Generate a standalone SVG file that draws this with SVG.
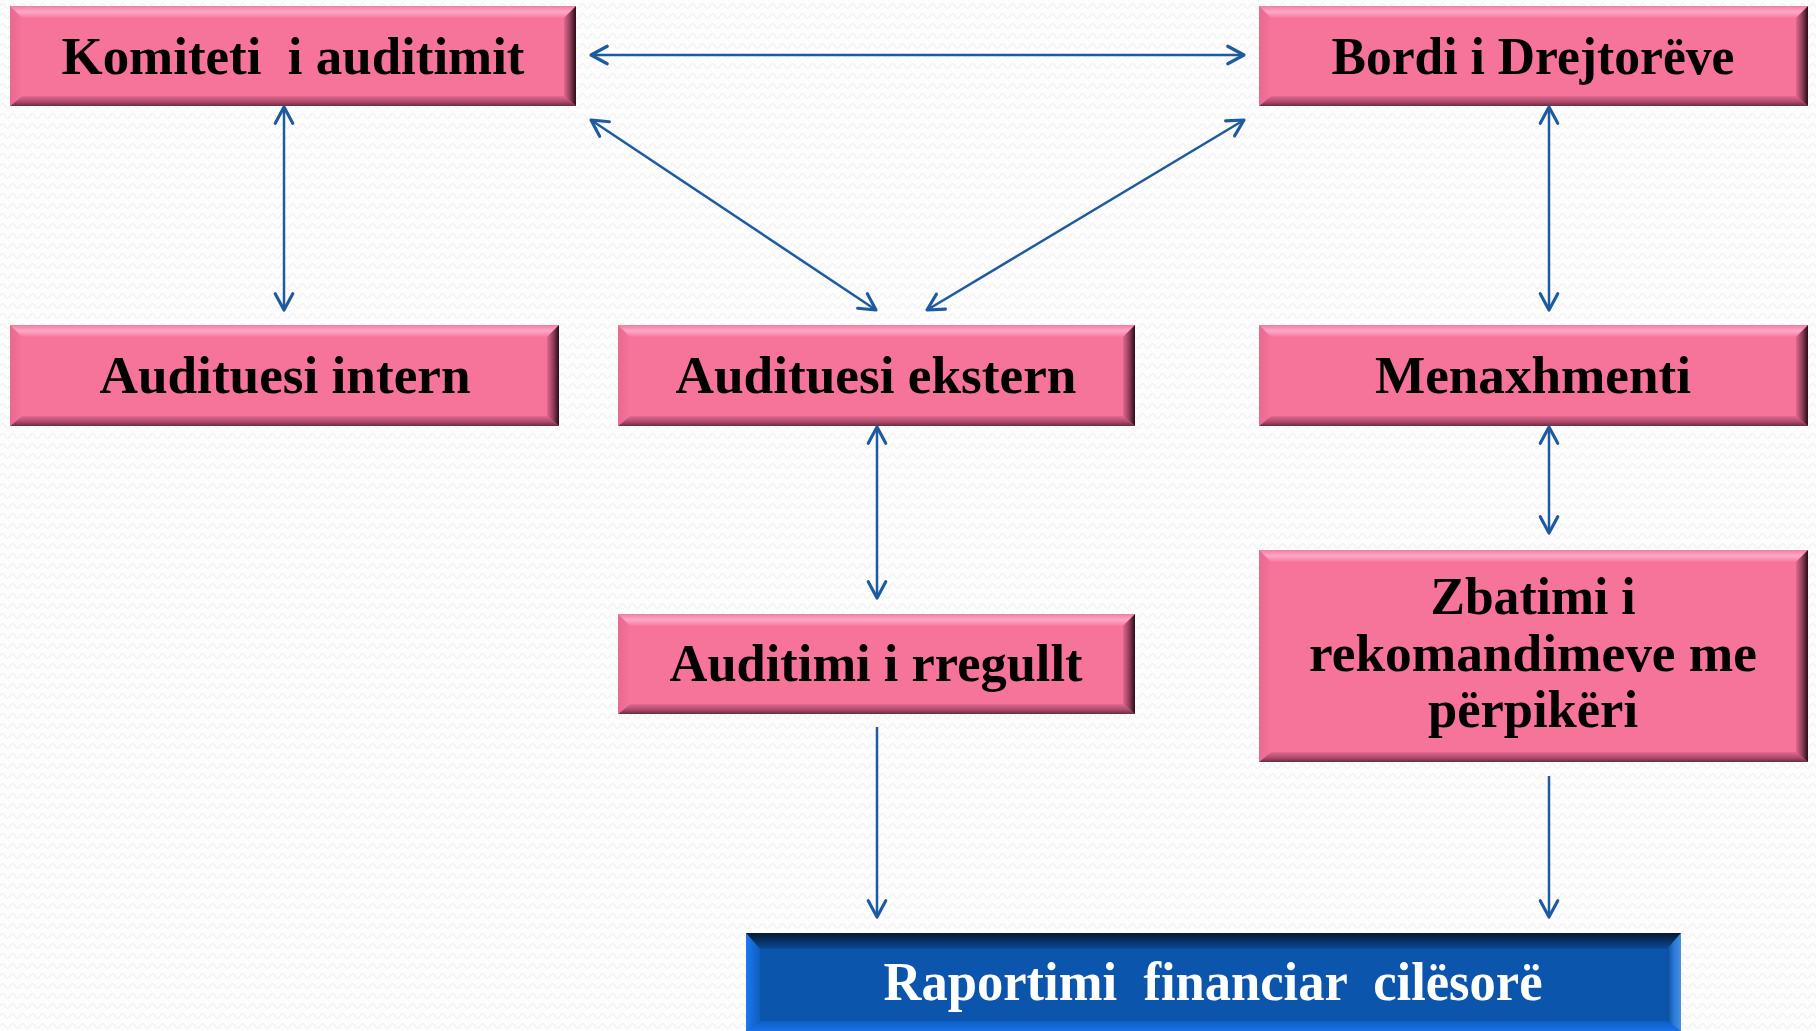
<svg xmlns="http://www.w3.org/2000/svg" width="1816" height="1031" viewBox="0 0 1816 1031">
<defs>
<pattern id="bg" width="10" height="10" patternUnits="userSpaceOnUse">
<rect width="10" height="10" fill="#fdfdfd"/>
<path d="M0 6 Q1.25 3.5 2.5 3.5 Q3.75 3.5 5 6 Q6.25 8.5 7.5 8.5 Q8.75 8.5 10 6" fill="none" stroke="#ececec" stroke-width="1"/>
</pattern>
<linearGradient id="pTop" x1="0" y1="0" x2="0" y2="1"><stop offset="0" stop-color="#f27da1"/><stop offset="0.5" stop-color="#fda8c8"/><stop offset="1" stop-color="#f6779d"/></linearGradient>
<linearGradient id="pBot" x1="0" y1="0" x2="0" y2="1"><stop offset="0" stop-color="#e6688f"/><stop offset="0.6" stop-color="#a84a6a"/><stop offset="1" stop-color="#6e2a42"/></linearGradient>
<linearGradient id="pRight" x1="0" y1="0" x2="1" y2="0"><stop offset="0" stop-color="#e26690"/><stop offset="0.5" stop-color="#94405c"/><stop offset="1" stop-color="#2a0c18"/></linearGradient>
<linearGradient id="pLeft" x1="0" y1="0" x2="1" y2="0"><stop offset="0" stop-color="#e9698f"/><stop offset="1" stop-color="#f6739a"/></linearGradient>
<linearGradient id="bTop" x1="0" y1="0" x2="0" y2="1"><stop offset="0" stop-color="#041a33"/><stop offset="1" stop-color="#0b4a95"/></linearGradient>
<linearGradient id="bBot" x1="0" y1="0" x2="0" y2="1"><stop offset="0" stop-color="#0d5fc4"/><stop offset="1" stop-color="#1a72ec"/></linearGradient>
<linearGradient id="bLeft" x1="0" y1="0" x2="1" y2="0"><stop offset="0" stop-color="#1e78f0"/><stop offset="1" stop-color="#0e5cc0"/></linearGradient>
<linearGradient id="bRight" x1="0" y1="0" x2="1" y2="0"><stop offset="0" stop-color="#0b4a98"/><stop offset="0.5" stop-color="#2a7ad8"/><stop offset="1" stop-color="#4890e0"/></linearGradient>
<marker id="arr" markerUnits="userSpaceOnUse" markerWidth="30" markerHeight="30" viewBox="-18 -12 24 24" refX="0" refY="0" orient="auto-start-reverse">
<path d="M-13,-7 L0,0 L-13,7" fill="none" stroke="#1d5aa0" stroke-width="2.5" stroke-linecap="round" stroke-linejoin="round"/>
</marker>
</defs>
<style>
.lbl{font-family:"Liberation Serif","Times New Roman",serif;font-weight:bold;font-size:52px;fill:#000;text-anchor:middle;white-space:pre}
.wlbl{font-family:"Liberation Serif","Times New Roman",serif;font-weight:bold;font-size:55px;fill:#fff;text-anchor:middle;white-space:pre}
.base{fill:#f6739a}
.bt{fill:url(#pTop)}.bb{fill:url(#pBot)}.br{fill:url(#pRight)}.bl{fill:url(#pLeft)}
.con{fill:none;stroke:#1d5aa0;stroke-width:2.5}
</style>
<rect width="1816" height="1031" fill="url(#bg)"/>

<g id="komiteti">
<rect class="base" x="10" y="6" width="566" height="100"/>
<polygon class="bt" points="10,6 576,6 564,18 22,18"/>
<polygon class="bb" points="10,106 576,106 564,96 22,96"/>
<polygon class="bl" points="10,6 22,18 22,96 10,106"/>
<polygon class="br" points="576,6 576,106 564,96 564,18"/>
<text class="lbl" x="293" y="74" textLength="463" lengthAdjust="spacingAndGlyphs">Komiteti  i auditimit</text>
</g>

<g id="bordi">
<rect class="base" x="1259" y="6" width="549" height="100"/>
<polygon class="bt" points="1259,6 1808,6 1796,18 1271,18"/>
<polygon class="bb" points="1259,106 1808,106 1796,96 1271,96"/>
<polygon class="bl" points="1259,6 1271,18 1271,96 1259,106"/>
<polygon class="br" points="1808,6 1808,106 1796,96 1796,18"/>
<text class="lbl" x="1533" y="74" textLength="403" lengthAdjust="spacingAndGlyphs">Bordi i Drejtorëve</text>
</g>

<g id="intern">
<rect class="base" x="10" y="325" width="549" height="101"/>
<polygon class="bt" points="10,325 559,325 547,337 22,337"/>
<polygon class="bb" points="10,426 559,426 547,416 22,416"/>
<polygon class="bl" points="10,325 22,337 22,416 10,426"/>
<polygon class="br" points="559,325 559,426 547,416 547,337"/>
<text class="lbl" x="285" y="393" textLength="371" lengthAdjust="spacingAndGlyphs">Audituesi intern</text>
</g>

<g id="ekstern">
<rect class="base" x="618" y="325" width="517" height="101"/>
<polygon class="bt" points="618,325 1135,325 1123,337 630,337"/>
<polygon class="bb" points="618,426 1135,426 1123,416 630,416"/>
<polygon class="bl" points="618,325 630,337 630,416 618,426"/>
<polygon class="br" points="1135,325 1135,426 1123,416 1123,337"/>
<text class="lbl" x="876" y="393" textLength="401" lengthAdjust="spacingAndGlyphs">Audituesi ekstern</text>
</g>

<g id="menaxhmenti">
<rect class="base" x="1259" y="325" width="549" height="101"/>
<polygon class="bt" points="1259,325 1808,325 1796,337 1271,337"/>
<polygon class="bb" points="1259,426 1808,426 1796,416 1271,416"/>
<polygon class="bl" points="1259,325 1271,337 1271,416 1259,426"/>
<polygon class="br" points="1808,325 1808,426 1796,416 1796,337"/>
<text class="lbl" x="1533" y="393" textLength="316" lengthAdjust="spacingAndGlyphs">Menaxhmenti</text>
</g>

<g id="rregullt">
<rect class="base" x="618" y="614" width="517" height="100"/>
<polygon class="bt" points="618,614 1135,614 1123,626 630,626"/>
<polygon class="bb" points="618,714 1135,714 1123,704 630,704"/>
<polygon class="bl" points="618,614 630,626 630,704 618,714"/>
<polygon class="br" points="1135,614 1135,714 1123,704 1123,626"/>
<text class="lbl" x="876" y="681" textLength="413" lengthAdjust="spacingAndGlyphs">Auditimi i rregullt</text>
</g>

<g id="zbatimi">
<rect class="base" x="1259" y="550" width="549" height="212"/>
<polygon class="bt" points="1259,550 1808,550 1796,562 1271,562"/>
<polygon class="bb" points="1259,762 1808,762 1796,752 1271,752"/>
<polygon class="bl" points="1259,550 1271,562 1271,752 1259,762"/>
<polygon class="br" points="1808,550 1808,762 1796,752 1796,562"/>
<text class="lbl" x="1533" y="614" textLength="205" lengthAdjust="spacingAndGlyphs">Zbatimi i</text>
<text class="lbl" x="1533" y="671" textLength="448" lengthAdjust="spacingAndGlyphs">rekomandimeve me</text>
<text class="lbl" x="1533" y="727" textLength="210" lengthAdjust="spacingAndGlyphs">përpikëri</text>
</g>

<g id="raportimi">
<rect x="746" y="933" width="935" height="98" fill="#0b55ad"/>
<polygon points="746,933 1681,933 1667,949 760,949" fill="url(#bTop)"/>
<polygon points="746,1031 1681,1031 1667,1021 760,1021" fill="url(#bBot)"/>
<polygon points="746,933 760,949 760,1021 746,1031" fill="url(#bLeft)"/>
<polygon points="1681,933 1681,1031 1667,1021 1667,949" fill="url(#bRight)"/>
<text class="wlbl" x="1213" y="1000" textLength="659" lengthAdjust="spacingAndGlyphs">Raportimi  financiar  cilësorë</text>
</g>

<g id="connectors">
<line class="con" x1="591" y1="55" x2="1244" y2="55" marker-start="url(#arr)" marker-end="url(#arr)"/>
<line class="con" x1="284" y1="107" x2="284" y2="310" marker-start="url(#arr)" marker-end="url(#arr)"/>
<line class="con" x1="591" y1="120" x2="876" y2="310" marker-start="url(#arr)" marker-end="url(#arr)"/>
<line class="con" x1="1244" y1="120" x2="927" y2="310" marker-start="url(#arr)" marker-end="url(#arr)"/>
<line class="con" x1="1549" y1="107" x2="1549" y2="310" marker-start="url(#arr)" marker-end="url(#arr)"/>
<line class="con" x1="877" y1="427" x2="877" y2="598" marker-start="url(#arr)" marker-end="url(#arr)"/>
<line class="con" x1="1549" y1="427" x2="1549" y2="533" marker-start="url(#arr)" marker-end="url(#arr)"/>
<line class="con" x1="877" y1="727" x2="877" y2="917" marker-end="url(#arr)"/>
<line class="con" x1="1549" y1="776" x2="1549" y2="917" marker-end="url(#arr)"/>
</g>
</svg>
